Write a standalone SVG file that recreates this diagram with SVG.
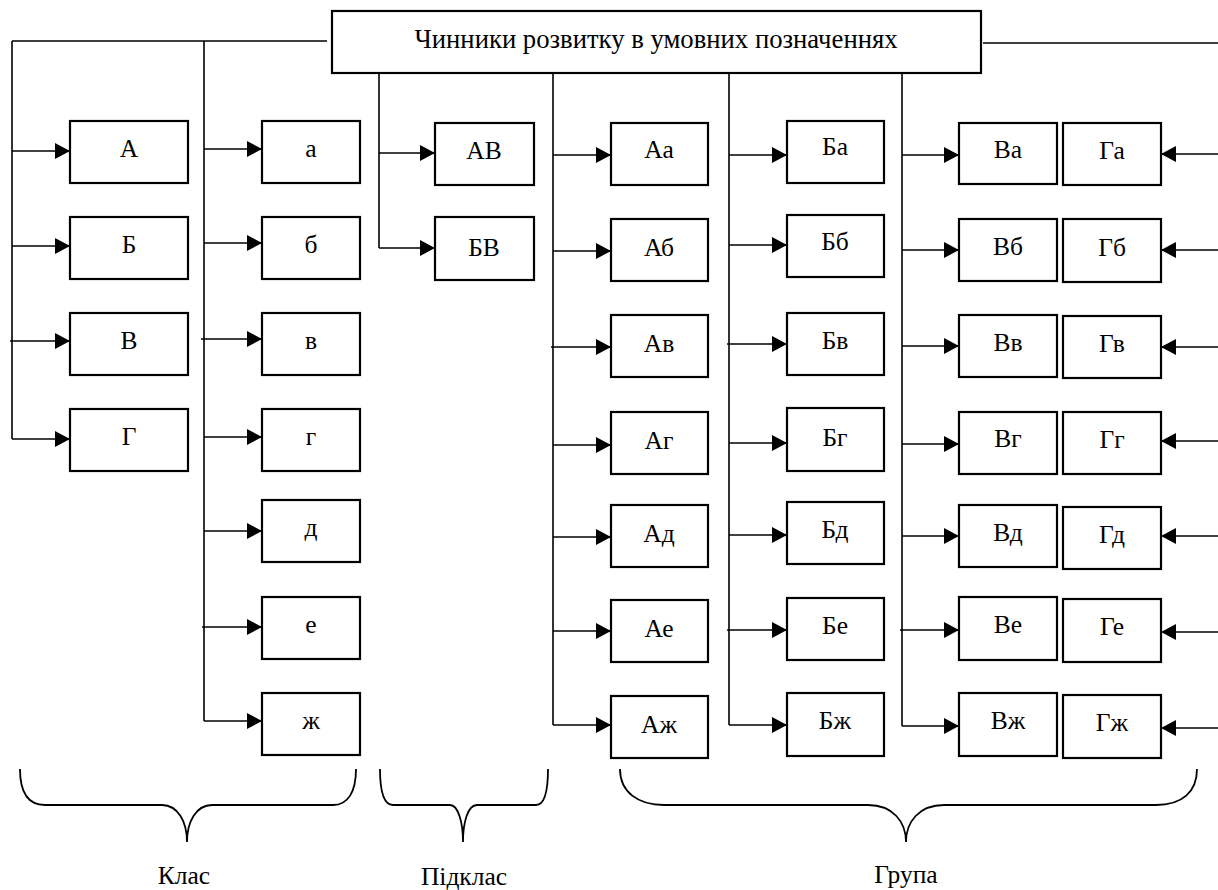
<svg xmlns="http://www.w3.org/2000/svg" width="1218" height="890" viewBox="0 0 1218 890">
<style>
.box{fill:#fff;stroke:#000;stroke-width:2.2}
.ln{stroke:#000;stroke-width:1.6;fill:none}
.br{stroke:#000;stroke-width:1.8;fill:none}
.t{font-family:'Liberation Serif','Times New Roman',Times,serif;font-size:25.5px;text-anchor:middle;fill:#000}
.tt{font-family:'Liberation Serif','Times New Roman',Times,serif;font-size:26.7px;text-anchor:middle;fill:#000}
</style>
<defs>
<marker id="ah" markerUnits="userSpaceOnUse" markerWidth="16" markerHeight="16" refX="15" refY="8" orient="auto">
<path d="M0,0 L15,8 L0,16 z" fill="#000"/>
</marker>
</defs>
<rect width="1218" height="890" fill="#fff"/>

<g id="connectors">
<path class="ln" d="M12,41 H327 M12,41 V439 M204,41 V721 M379,73 V248 M553,73 V725 M729,73 V725 M902,73 V726 M983,43 H1218"/>
<g marker-end="url(#ah)" class="ln">
<line x1="12" y1="151" x2="70" y2="151"/>
<line x1="12" y1="246" x2="70" y2="246"/>
<line x1="10" y1="341" x2="70" y2="341"/>
<line x1="12" y1="439" x2="70" y2="439"/>
<line x1="204" y1="149" x2="262" y2="149"/>
<line x1="204" y1="243" x2="262" y2="243"/>
<line x1="201" y1="339" x2="262" y2="339"/>
<line x1="204" y1="437" x2="262" y2="437"/>
<line x1="204" y1="531" x2="262" y2="531"/>
<line x1="202" y1="627" x2="262" y2="627"/>
<line x1="204" y1="721" x2="262" y2="721"/>
<line x1="379" y1="153" x2="435" y2="153"/>
<line x1="379" y1="248" x2="435" y2="248"/>
<line x1="553" y1="155" x2="611" y2="155"/>
<line x1="553" y1="251" x2="611" y2="251"/>
<line x1="551" y1="347" x2="611" y2="347"/>
<line x1="553" y1="445" x2="611" y2="445"/>
<line x1="553" y1="537" x2="611" y2="537"/>
<line x1="553" y1="631" x2="611" y2="631"/>
<line x1="553" y1="725" x2="611" y2="725"/>
<line x1="729" y1="155" x2="787" y2="155"/>
<line x1="729" y1="245" x2="787" y2="245"/>
<line x1="727" y1="344" x2="787" y2="344"/>
<line x1="729" y1="443" x2="787" y2="443"/>
<line x1="729" y1="535" x2="787" y2="535"/>
<line x1="727" y1="630" x2="787" y2="630"/>
<line x1="729" y1="725" x2="787" y2="725"/>
<line x1="902" y1="155" x2="959" y2="155"/>
<line x1="902" y1="250" x2="959" y2="250"/>
<line x1="902" y1="346" x2="959" y2="346"/>
<line x1="902" y1="444" x2="959" y2="444"/>
<line x1="902" y1="536" x2="959" y2="536"/>
<line x1="900" y1="630" x2="959" y2="630"/>
<line x1="902" y1="726" x2="959" y2="726"/>
<line x1="1218" y1="154" x2="1161" y2="154"/>
<line x1="1218" y1="250" x2="1161" y2="250"/>
<line x1="1218" y1="347" x2="1161" y2="347"/>
<line x1="1218" y1="441" x2="1161" y2="441"/>
<line x1="1218" y1="536" x2="1161" y2="536"/>
<line x1="1218" y1="632" x2="1161" y2="632"/>
<line x1="1218" y1="728" x2="1161" y2="728"/>
</g>
</g>

<g id="title"><rect class="box" x="332" y="11" width="649" height="62"/><text class="tt" x="656" y="48">Чинники розвитку в умовних позначеннях</text></g>

<g id="n-A"><rect class="box" x="70" y="121" width="118" height="62"/><text class="t" x="129" y="157">А</text></g>
<g id="n-B"><rect class="box" x="70" y="217" width="118" height="62"/><text class="t" x="129" y="253">Б</text></g>
<g id="n-V"><rect class="box" x="70" y="313" width="118" height="62"/><text class="t" x="129" y="349">В</text></g>
<g id="n-G"><rect class="box" x="70" y="409" width="118" height="62"/><text class="t" x="129" y="445">Г</text></g>

<g id="n-a"><rect class="box" x="262" y="121" width="98" height="62"/><text class="t" x="311" y="157">а</text></g>
<g id="n-b"><rect class="box" x="262" y="217" width="98" height="62"/><text class="t" x="311" y="253">б</text></g>
<g id="n-v"><rect class="box" x="262" y="313" width="98" height="62"/><text class="t" x="311" y="349">в</text></g>
<g id="n-g"><rect class="box" x="262" y="409" width="98" height="62"/><text class="t" x="311" y="445">г</text></g>
<g id="n-d"><rect class="box" x="262" y="500" width="98" height="62"/><text class="t" x="311" y="536">д</text></g>
<g id="n-e"><rect class="box" x="262" y="597" width="98" height="62"/><text class="t" x="311" y="633">е</text></g>
<g id="n-zh"><rect class="box" x="262" y="693" width="98" height="62"/><text class="t" x="311" y="729">ж</text></g>

<g id="n-AV"><rect class="box" x="435" y="123" width="99" height="62"/><text class="t" x="484" y="159">АВ</text></g>
<g id="n-BV"><rect class="box" x="435" y="217" width="99" height="63"/><text class="t" x="484" y="256">БВ</text></g>

<g id="n-Aa"><rect class="box" x="611" y="123" width="97" height="62"/><text class="t" x="659" y="158">Аа</text></g>
<g id="n-Ab"><rect class="box" x="611" y="219" width="97" height="62"/><text class="t" x="659" y="256">Аб</text></g>
<g id="n-Av"><rect class="box" x="611" y="315" width="97" height="62"/><text class="t" x="659" y="352">Ав</text></g>
<g id="n-Ag"><rect class="box" x="611" y="412" width="97" height="62"/><text class="t" x="659" y="449">Аг</text></g>
<g id="n-Ad"><rect class="box" x="611" y="505" width="97" height="62"/><text class="t" x="659" y="542">Ад</text></g>
<g id="n-Ae"><rect class="box" x="611" y="600" width="97" height="62"/><text class="t" x="659" y="637">Ае</text></g>
<g id="n-Azh"><rect class="box" x="611" y="696" width="97" height="62"/><text class="t" x="659" y="733">Аж</text></g>

<g id="n-Ba"><rect class="box" x="787" y="121" width="97" height="62"/><text class="t" x="835" y="155">Ба</text></g>
<g id="n-Bb"><rect class="box" x="787" y="215" width="97" height="62"/><text class="t" x="835" y="250">Бб</text></g>
<g id="n-Bv"><rect class="box" x="787" y="313" width="97" height="62"/><text class="t" x="835" y="349">Бв</text></g>
<g id="n-Bg"><rect class="box" x="787" y="408" width="97" height="63"/><text class="t" x="835" y="446">Бг</text></g>
<g id="n-Bd"><rect class="box" x="787" y="502" width="97" height="62"/><text class="t" x="835" y="538">Бд</text></g>
<g id="n-Be"><rect class="box" x="787" y="598" width="97" height="62"/><text class="t" x="835" y="634">Бе</text></g>
<g id="n-Bzh"><rect class="box" x="787" y="693" width="97" height="63"/><text class="t" x="835" y="729">Бж</text></g>

<g id="n-Va"><rect class="box" x="959" y="123" width="98" height="61"/><text class="t" x="1008" y="158">Ва</text></g>
<g id="n-Vb"><rect class="box" x="959" y="219" width="98" height="62"/><text class="t" x="1008" y="255">Вб</text></g>
<g id="n-Vv"><rect class="box" x="959" y="315" width="98" height="62"/><text class="t" x="1008" y="351">Вв</text></g>
<g id="n-Vg"><rect class="box" x="959" y="412" width="98" height="62"/><text class="t" x="1008" y="447">Вг</text></g>
<g id="n-Vd"><rect class="box" x="959" y="505" width="98" height="62"/><text class="t" x="1008" y="541">Вд</text></g>
<g id="n-Ve"><rect class="box" x="959" y="597" width="98" height="63"/><text class="t" x="1008" y="633">Ве</text></g>
<g id="n-Vzh"><rect class="box" x="959" y="693" width="98" height="63"/><text class="t" x="1008" y="729">Вж</text></g>

<g id="n-Ga"><rect class="box" x="1063" y="123" width="98" height="62"/><text class="t" x="1112" y="159">Га</text></g>
<g id="n-Gb"><rect class="box" x="1063" y="219" width="98" height="63"/><text class="t" x="1112" y="256">Гб</text></g>
<g id="n-Gv"><rect class="box" x="1063" y="316" width="98" height="62"/><text class="t" x="1112" y="352">Гв</text></g>
<g id="n-Gg"><rect class="box" x="1063" y="412" width="98" height="62"/><text class="t" x="1112" y="448">Гг</text></g>
<g id="n-Gd"><rect class="box" x="1063" y="507" width="98" height="62"/><text class="t" x="1112" y="543">Гд</text></g>
<g id="n-Ge"><rect class="box" x="1063" y="599" width="98" height="63"/><text class="t" x="1112" y="635">Ге</text></g>
<g id="n-Gzh"><rect class="box" x="1063" y="695" width="98" height="63"/><text class="t" x="1112" y="731">Гж</text></g>

<g id="brace-klas">
<path class="br" d="M20,769 C20,792 28,805 45,805 L162,805 C178,805 187,822 187,842 C187,822 196,805 212,805 L333,805 C348,805 356,792 356,769"/>
<text class="t" x="184" y="884">Клас</text>
</g>
<g id="brace-pidklas">
<path class="br" d="M380,769 C380,792 384,805 393,805 L450,805 C458,805 463,822 463,842 C463,822 468,805 477,805 L536,805 C544,805 548,792 548,769"/>
<text class="t" x="464" y="885">Підклас</text>
</g>
<g id="brace-hrupa">
<path class="br" d="M620,769 C620,792 638,805 664,805 L868,805 C893,805 906,822 906,842 C906,822 919,805 944,805 L1156,805 C1182,805 1197,792 1197,769"/>
<text class="t" x="906" y="883">Група</text>
</g>
</svg>
